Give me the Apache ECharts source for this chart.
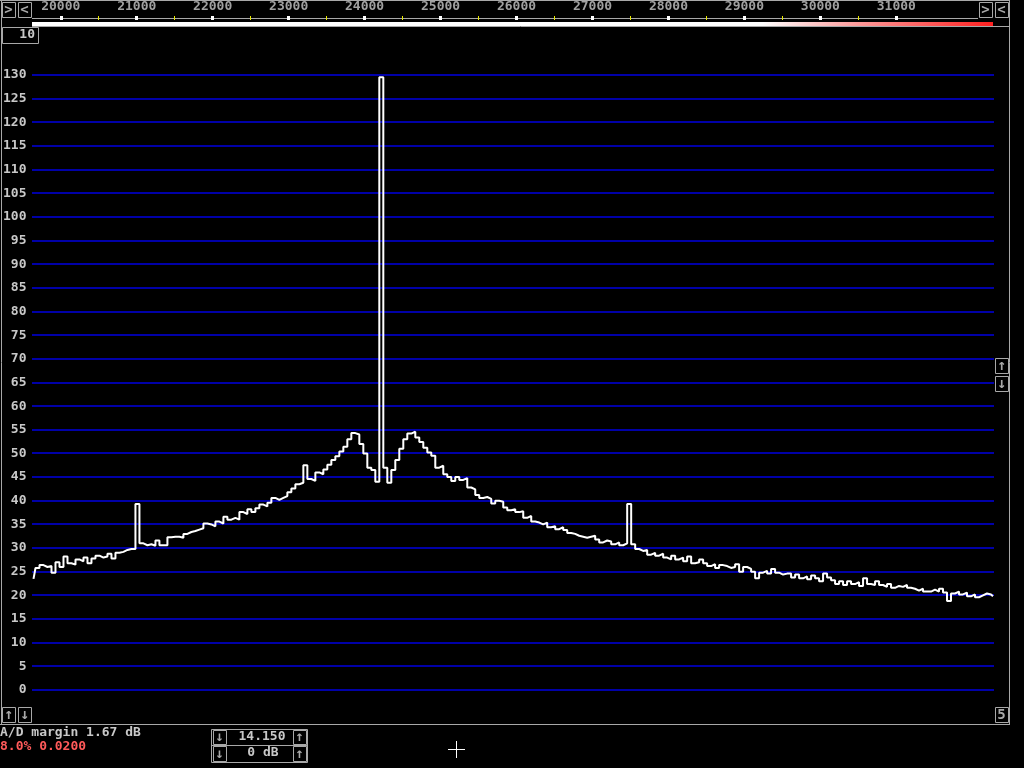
<!DOCTYPE html>
<html><head><meta charset="utf-8">
<script src="https://cdn.jsdelivr.net/npm/echarts@6/dist/echarts.min.js"></script>
<style>html,body{margin:0;padding:0;background:#000;}#c{width:1024px;height:768px;}</style>
</head><body><div id="c"></div>
<script>
// spectrum bins (Hz)
const binStartHz = 19641;
const binWidthHz = 52.63;
// level per bin (dB)
const levels = [
23.5,25.8,26.4,26.0,26.2,24.8,27.0,26.0,28.2,26.8,
26.5,27.6,27.2,28.0,26.8,27.8,28.4,28.0,28.2,28.8,
27.8,29.0,29.2,29.6,29.8,29.8,39.3,31.0,30.6,30.8,
30.5,31.6,30.6,30.6,32.3,32.4,32.4,32.2,33.0,33.4,
33.6,33.9,34.2,35.2,35.0,34.6,35.6,35.2,36.6,36.0,
36.4,36.0,37.6,37.2,38.2,37.6,38.4,39.2,38.8,39.6,
40.6,40.2,40.6,41.0,41.8,42.6,43.5,43.8,47.5,44.6,
44.2,46.0,45.6,46.6,47.6,48.6,49.4,50.4,51.4,53.0,
54.3,54.0,52.0,50.0,47.0,46.5,44.0,129.5,47.0,43.8,
46.5,48.6,51.0,53.0,54.2,54.6,53.4,52.4,51.2,50.2,
49.5,47.0,47.4,45.6,45.0,44.2,45.0,44.4,44.8,42.8,
42.4,41.2,40.6,40.8,40.4,39.4,40.0,39.8,38.6,38.0,
38.2,37.6,37.8,36.4,36.8,35.6,35.4,35.0,35.4,34.4,
34.6,34.0,34.4,33.8,33.2,33.0,32.6,32.4,32.2,32.4,
32.6,31.8,31.2,31.6,31.4,30.8,31.2,30.6,31.0,39.3,
30.8,29.8,29.4,29.6,28.6,29.0,28.4,28.8,28.0,27.6,
28.4,27.6,28.0,27.2,28.2,26.8,27.0,27.6,26.8,26.2,
26.6,25.8,26.4,26.2,25.8,26.0,26.6,25.0,26.0,25.6,
25.0,23.6,24.8,25.2,24.6,25.6,24.8,24.4,24.6,24.6,
23.8,24.4,23.6,24.0,23.4,24.2,23.6,23.0,24.6,23.8,
23.2,22.4,23.0,22.2,23.0,22.4,22.8,22.0,23.6,22.4,
22.2,23.0,22.2,21.8,22.4,21.6,22.0,21.8,22.2,21.6,
21.4,21.0,21.4,20.8,20.8,21.2,20.8,21.4,20.6,18.8,
20.4,20.8,20.2,20.6,19.8,20.2,19.6,20.0,20.4,20.2,
19.8
];
const rulerLabels = [20000,21000,22000,23000,24000,25000,26000,27000,28000,29000,30000,31000];
const halfMarks = [20500,21500,22500,23500,24500,25500,26500,27500,28500,29500,30500];
const yMin = 0, yMax = 130, yStep = 5;
const xMin = 19640.8, xMax = 32272.4;

const seriesData = levels.map((v, i) => [binStartHz + i * binWidthHz, v]);

const gray = '#a8a8a8';
const mono = '"DejaVu Sans Mono", monospace';

function box(x, y, w, h) {
  return { type: 'rect', shape: { x: x + 0.5, y: y + 0.5, width: w, height: h }, style: { fill: null, stroke: gray, lineWidth: 1 }, silent: true };
}
function txt(x, y, s, color, align, size) {
  return { type: 'text', x: x, y: y, style: { text: s, fill: color || '#c8c8c8', font: 'bold ' + (size || 13) + 'px ' + mono, align: align || 'left', verticalAlign: 'middle' }, silent: true };
}
function line(x1, y1, x2, y2, c, w) {
  return { type: 'line', shape: { x1: x1, y1: y1, x2: x2, y2: y2 }, style: { stroke: c || gray, lineWidth: w || 1 }, silent: true };
}

const chrome = [
  // frame
  line(0, 0.5, 1010, 0.5), line(1.5, 0, 1.5, 725), line(1009.5, 0, 1009.5, 725), line(0, 724.5, 1010, 724.5),
  line(32, 18.5, 978, 18.5), line(32, 26.5, 1009, 26.5),
  // white level bar with red end
  { type: 'rect', shape: { x: 32, y: 22, width: 961, height: 4 }, style: { fill: {
    type: 'linear', x: 0, y: 0, x2: 1, y2: 0, colorStops: [
      { offset: 0, color: '#ffffff' }, { offset: 0.76, color: '#ffffff' }, { offset: 0.86, color: '#ff9a9a' }, { offset: 1, color: '#ff2020' }] } }, silent: true },
  // top buttons
  box(2, 2, 13, 15), txt(8.5, 10, '>', gray, 'center', 14),
  box(18, 2, 13, 15), txt(24.5, 10, '<', gray, 'center', 14),
  box(979, 2, 13, 15), txt(985.5, 10, '>', gray, 'center', 14),
  box(995, 2, 13, 15), txt(1001.5, 10, '<', gray, 'center', 14),
  box(2, 27, 36, 16), txt(35, 35, '10', '#c8c8c8', 'right'),
  // right side arrows
  box(995, 358, 13, 15), txt(1001.5, 366, '↑', gray, 'center', 15),
  box(995, 376, 13, 15), txt(1001.5, 384, '↓', gray, 'center', 15),
  box(995, 707, 13, 15), txt(1001.5, 715, '5', gray, 'center', 14),
  // bottom left arrows
  box(2, 707, 13, 15), txt(8.5, 715, '↑', gray, 'center', 15),
  box(18, 707, 13, 15), txt(24.5, 715, '↓', gray, 'center', 15),
  // bottom texts
  txt(0, 733, 'A/D margin 1.67 dB', '#c8c8c8'),
  txt(0, 747, '8.0% 0.0200', '#ff5a5a'),
  // gain box
  box(211, 729, 96, 33), line(212, 745.5, 307, 745.5),
  box(213, 730, 13, 14), txt(219.5, 737, '↓', gray, 'center', 14),
  box(293, 730, 13, 14), txt(299.5, 737, '↑', gray, 'center', 14),
  box(213, 746, 13, 15), txt(219.5, 754, '↓', gray, 'center', 14),
  box(293, 746, 13, 15), txt(299.5, 754, '↑', gray, 'center', 14),
  txt(262, 737, '14.150', '#c8c8c8', 'center'),
  txt(263, 753, '0 dB', '#c8c8c8', 'center'),
  // cursor cross
  line(448, 749.5, 465, 749.5, '#ffffff', 1), line(456.5, 741, 456.5, 758, '#ffffff', 1)
];

const chart = echarts.init(document.getElementById('c'), null, { renderer: 'canvas' });
chart.setOption({
  backgroundColor: '#000',
  animation: false,
  grid: { left: 33, right: 31, top: 73, bottom: 78 },
  xAxis: [
    { type: 'value', min: xMin, max: xMax, show: false },
    { type: 'value', min: xMin, max: xMax, position: 'top', offset: 55,
      axisLine: { show: false },
      splitLine: { show: false },
      axisTick: { show: true, inside: false, length: 4, customValues: rulerLabels, lineStyle: { color: '#ffffff', width: 3 } },
      axisLabel: { show: true, customValues: rulerLabels, formatter: v => String(v), margin: 7, color: '#a0a0a0', fontFamily: mono, fontWeight: 'bold', fontSize: 13 } },
    { type: 'value', min: xMin, max: xMax, position: 'top', offset: 55,
      axisLine: { show: false },
      splitLine: { show: false },
      axisTick: { show: true, inside: false, length: 4, customValues: halfMarks, lineStyle: { color: '#e8e800', width: 1 } },
      axisLabel: { show: false } }
  ],
  yAxis: {
    type: 'value', min: yMin, max: yMax, interval: yStep,
    axisLine: { show: false }, axisTick: { show: false },
    axisLabel: { color: '#c8c8c8', fontFamily: mono, fontWeight: 'bold', fontSize: 13, margin: 7 },
    splitLine: { show: false }
  },
  series: [{
    type: 'line', step: 'middle', showSymbol: false, symbol: 'none',
    data: seriesData, xAxisIndex: 0, z: 5,
    lineStyle: { color: '#ffffff', width: 2 }, silent: true
  }],
  graphic: chrome
});

// horizontal level lines at the axis' own tick positions
const gx1 = chart.convertToPixel({ xAxisIndex: 0 }, xMin);
const gx2 = chart.convertToPixel({ xAxisIndex: 0 }, xMax);
const levelLines = [];
for (let v = yMin; v <= yMax; v += yStep) {
  const py = Math.round(chart.convertToPixel({ yAxisIndex: 0 }, v));
  levelLines.push({ type: 'line', z: 1, shape: { x1: Math.round(gx1) - 1, y1: py, x2: Math.round(gx2) + 1, y2: py }, style: { stroke: '#0000a8', lineWidth: 2 }, silent: true });
}
chart.setOption({ graphic: chrome.concat(levelLines) });
</script>
</body></html>
